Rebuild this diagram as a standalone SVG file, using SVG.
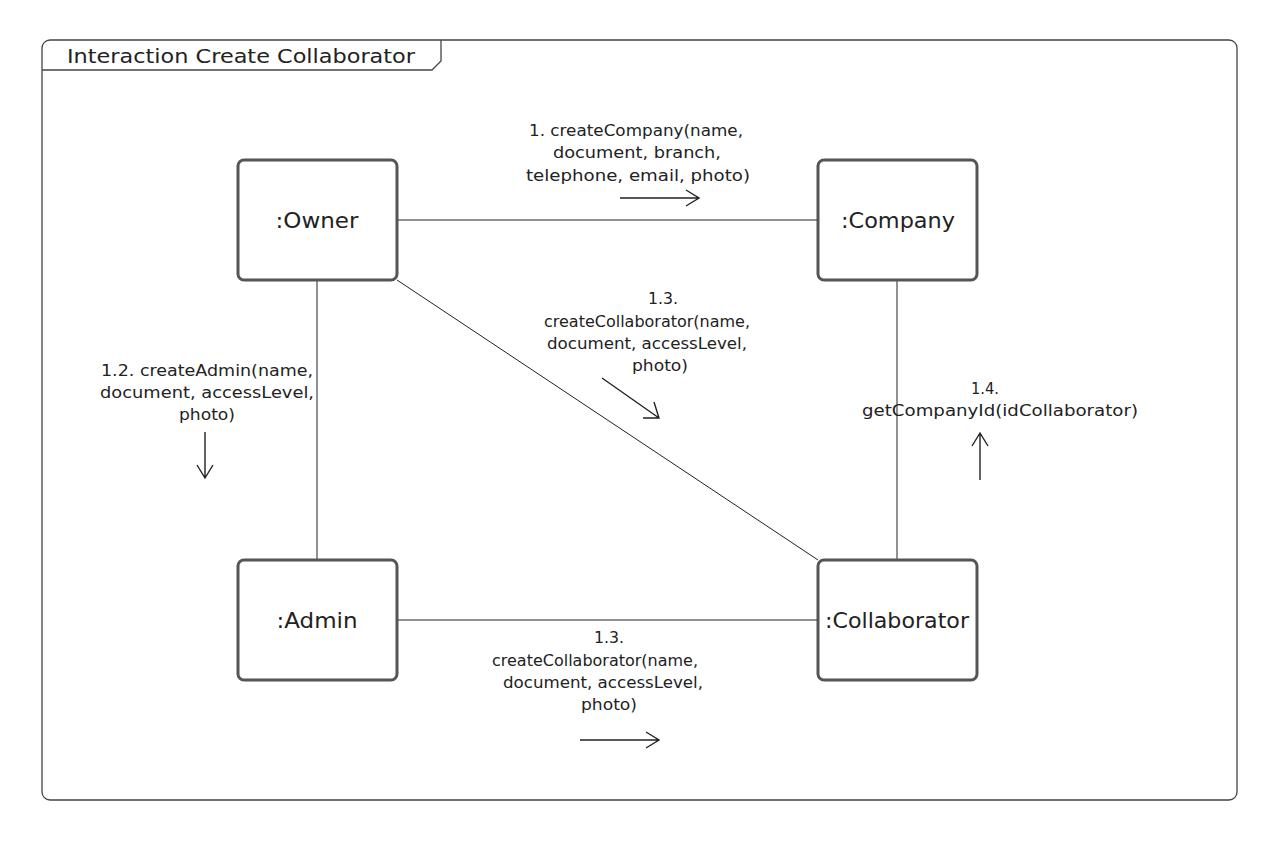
<svg xmlns="http://www.w3.org/2000/svg" width="1288" height="844" viewBox="0 0 1288 844">
<style>
.frame{fill:none;stroke:#444;stroke-width:1.3}
.node{fill:#fff;stroke:#555;stroke-width:3}
.conn{fill:none;stroke:#222;stroke-width:1}
.arr{fill:none;stroke:#222;stroke-width:1.4}
.lbl{font-family:"DejaVu Sans",sans-serif;font-size:16px;fill:#222;text-anchor:middle}
.nl{font-family:"DejaVu Sans",sans-serif;font-size:21px;fill:#222;text-anchor:middle}
.title{font-family:"DejaVu Sans",sans-serif;font-size:20px;fill:#222}
</style>
<rect width="1288" height="844" fill="#fff"/>
<g id="frame">
<rect class="frame" x="42" y="40" width="1195" height="760" rx="8"/>
<path class="frame" d="M42,70 H432 L441,61 V40"/>
<text class="title" x="67" y="63" textLength="348" lengthAdjust="spacingAndGlyphs">Interaction Create Collaborator</text>
</g>
<g id="connectors">
<line class="conn" x1="397" y1="220" x2="818" y2="220"/>
<line class="conn" x1="317" y1="280" x2="317" y2="560"/>
<line class="conn" x1="897" y1="280" x2="897" y2="560"/>
<line class="conn" x1="397" y1="620" x2="818" y2="620"/>
<line class="conn" x1="397" y1="280" x2="818" y2="560"/>
<path class="arr" d="M620,198 H699 M686,190 L699,198 L686,206"/>
<path class="arr" d="M602,378 L659,418 M654,402 L659,418 L643,418"/>
<path class="arr" d="M205,432 V478 M197,465 L205,478 L213,465"/>
<path class="arr" d="M980,480 V433 M972,446 L980,433 L988,446"/>
<path class="arr" d="M580,740 H659 M646,732 L659,740 L646,748"/>
<g id="labels">
<text class="lbl"><tspan x="636" y="136" textLength="214" lengthAdjust="spacingAndGlyphs">1. createCompany(name,</tspan></text>
<text class="lbl"><tspan x="637" y="158" textLength="168" lengthAdjust="spacingAndGlyphs">document, branch,</tspan></text>
<text class="lbl"><tspan x="638" y="181" textLength="224" lengthAdjust="spacingAndGlyphs">telephone, email, photo)</tspan></text>
<text class="lbl"><tspan x="663" y="304" textLength="30" lengthAdjust="spacingAndGlyphs">1.3.</tspan></text>
<text class="lbl"><tspan x="647" y="327" textLength="206" lengthAdjust="spacingAndGlyphs">createCollaborator(name,</tspan></text>
<text class="lbl"><tspan x="647" y="349" textLength="200" lengthAdjust="spacingAndGlyphs">document, accessLevel,</tspan></text>
<text class="lbl"><tspan x="660" y="371" textLength="56" lengthAdjust="spacingAndGlyphs">photo)</tspan></text>
<text class="lbl"><tspan x="207" y="376" textLength="212" lengthAdjust="spacingAndGlyphs">1.2. createAdmin(name,</tspan></text>
<text class="lbl"><tspan x="207" y="398" textLength="214" lengthAdjust="spacingAndGlyphs">document, accessLevel,</tspan></text>
<text class="lbl"><tspan x="207" y="420" textLength="56" lengthAdjust="spacingAndGlyphs">photo)</tspan></text>
<text class="lbl"><tspan x="985" y="394" textLength="28" lengthAdjust="spacingAndGlyphs">1.4.</tspan></text>
<text class="lbl"><tspan x="1000" y="416" textLength="276" lengthAdjust="spacingAndGlyphs">getCompanyId(idCollaborator)</tspan></text>
<text class="lbl"><tspan x="609" y="643" textLength="30" lengthAdjust="spacingAndGlyphs">1.3.</tspan></text>
<text class="lbl"><tspan x="595" y="666" textLength="206" lengthAdjust="spacingAndGlyphs">createCollaborator(name,</tspan></text>
<text class="lbl"><tspan x="603" y="688" textLength="200" lengthAdjust="spacingAndGlyphs">document, accessLevel,</tspan></text>
<text class="lbl"><tspan x="609" y="710" textLength="56" lengthAdjust="spacingAndGlyphs">photo)</tspan></text>
</g>
</g>
<g id="owner"><rect class="node" x="238" y="160" width="159" height="120" rx="6"/><text class="nl" x="317" y="228" textLength="83" lengthAdjust="spacingAndGlyphs">:Owner</text></g>
<g id="company"><rect class="node" x="818" y="160" width="159" height="120" rx="6"/><text class="nl" x="898" y="228" textLength="114" lengthAdjust="spacingAndGlyphs">:Company</text></g>
<g id="admin"><rect class="node" x="238" y="560" width="159" height="120" rx="6"/><text class="nl" x="317" y="628" textLength="81" lengthAdjust="spacingAndGlyphs">:Admin</text></g>
<g id="collaborator"><rect class="node" x="818" y="560" width="159" height="120" rx="6"/><text class="nl" x="897" y="628" textLength="144" lengthAdjust="spacingAndGlyphs">:Collaborator</text></g>
</svg>
